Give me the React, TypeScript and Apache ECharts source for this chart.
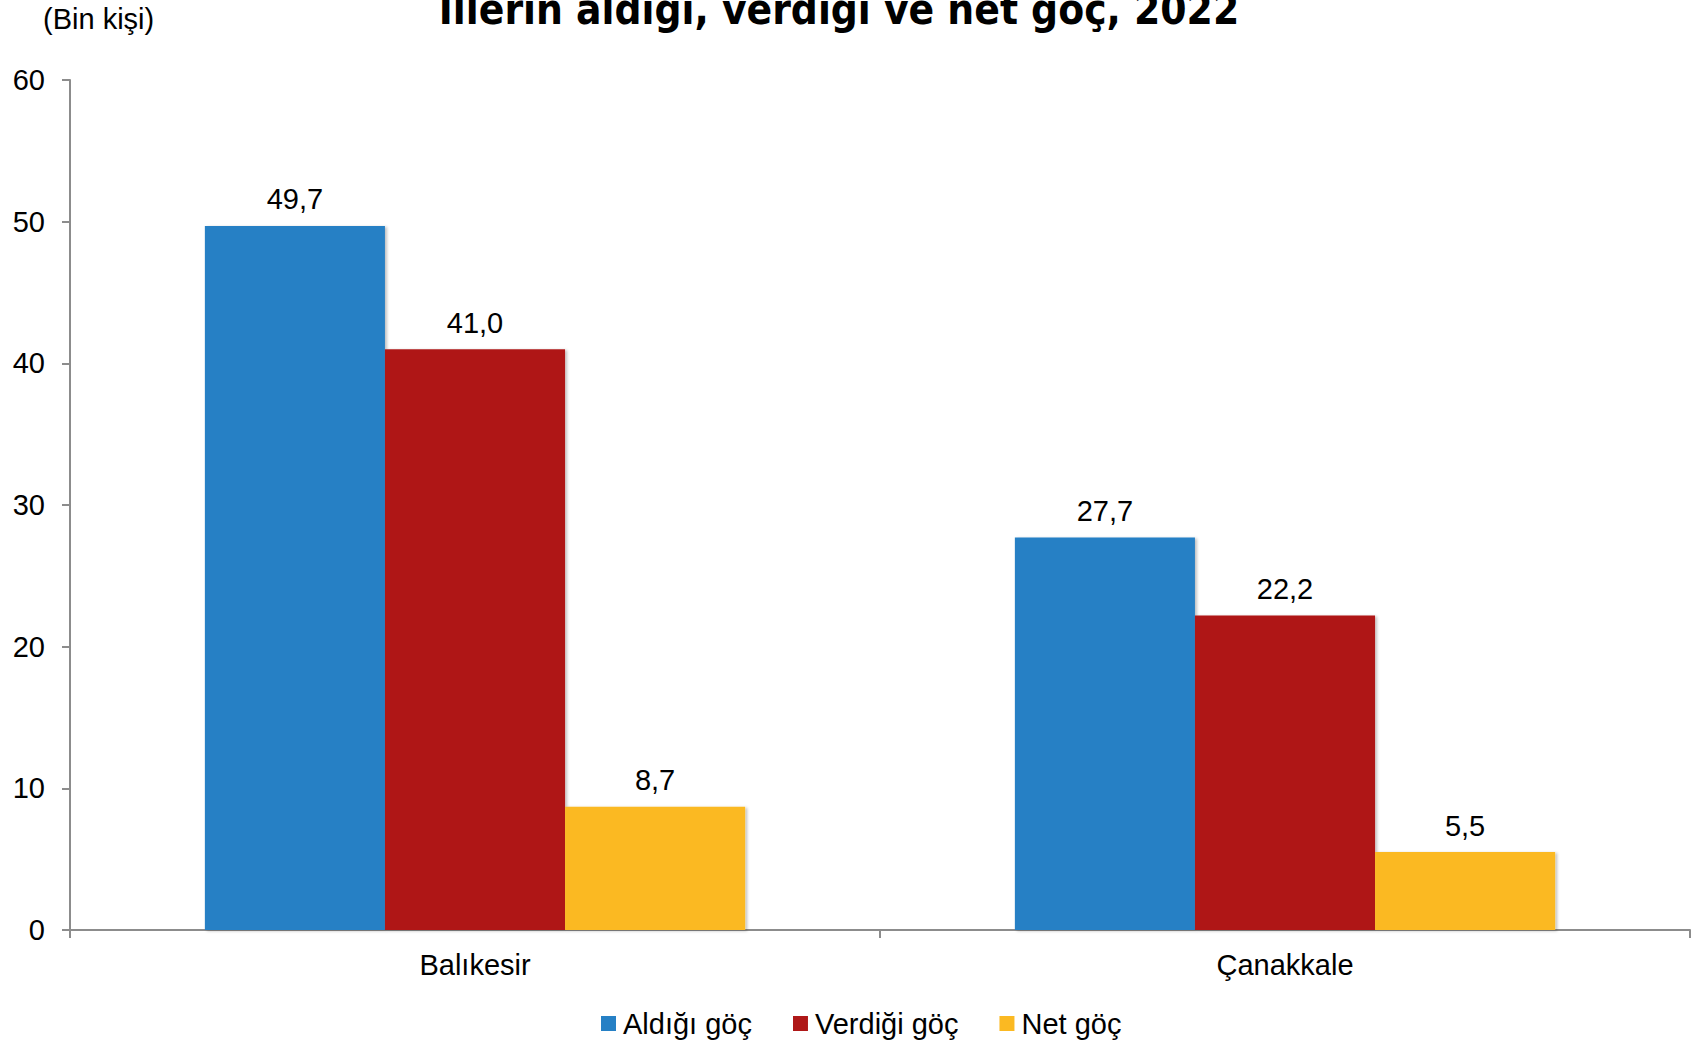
import React, { useEffect, useRef } from "react";
import * as echarts from "echarts";

const titleText = "İllerin aldığı, verdiği ve net göç, 2022";
const unitText = "(Bin kişi)";
const categories = ["Balıkesir", "Çanakkale"];
const seriesNames = ["Aldığı göç", "Verdiği göç", "Net göç"];
const aldigi = [49.7, 27.7];
const verdigi = [41.0, 22.2];
const net = [8.7, 5.5];
const colors = ["#2680C5", "#AF1818", "#FBB922"];

export default function App() {
  const ref = useRef<HTMLDivElement>(null);
  useEffect(() => {
    if (!ref.current) return;
    const chart = echarts.init(ref.current, null, { renderer: "svg" });
    const font = "'Liberation Sans', Arial, sans-serif";
    const values = [aldigi, verdigi, net];
    chart.setOption({
      animation: false,
      backgroundColor: "#ffffff",
      title: {
        text: titleText,
        left: 834,
        top: -17,
        textAlign: "center",
        textStyle: {
          fontFamily: "'DejaVu Sans Condensed', 'DejaVu Sans', sans-serif",
          fontWeight: "bold",
          fontSize: 42,
          color: "#000",
        },
      },
      graphic: [
        {
          type: "text",
          left: 43,
          top: 4,
          style: { text: unitText, font: `29px ${font}`, fill: "#000" },
        },
      ],
      legend: {
        left: 596,
        top: 1004,
        itemWidth: 15,
        itemHeight: 15,
        itemGap: 41,
        icon: "rect",
        textStyle: { fontFamily: font, fontSize: 29, color: "#000", padding: [0, 0, 0, 2] },
        data: seriesNames,
      },
      grid: { left: 70, right: 2, top: 80, bottom: 114, containLabel: false },
      xAxis: {
        type: "category",
        data: categories,
        axisLine: { lineStyle: { color: "#8C8C8C", width: 2 } },
        axisTick: { show: true, length: 8, lineStyle: { color: "#8C8C8C", width: 2 } },
        axisLabel: { margin: 20, fontFamily: font, fontSize: 29, color: "#000" },
      },
      yAxis: {
        type: "value",
        min: 0,
        max: 60,
        interval: 10,
        splitLine: { show: false },
        axisLine: { show: true, lineStyle: { color: "#8C8C8C", width: 2 } },
        axisTick: { show: true, length: 8, lineStyle: { color: "#8C8C8C", width: 2 } },
        axisLabel: { margin: 25, fontFamily: font, fontSize: 29, color: "#000" },
      },
      series: seriesNames.map((name, i) => ({
        name,
        type: "bar",
        data: values[i],
        barGap: "0%",
        barCategoryGap: "33.3%",
        itemStyle: {
          color: colors[i],
          shadowColor: "rgba(0,0,0,0.25)",
          shadowBlur: 3,
          shadowOffsetX: 2,
          shadowOffsetY: 1,
        },
        label: {
          show: true,
          position: "top",
          distance: 12,
          fontFamily: font,
          fontSize: 29,
          color: "#000",
          formatter: (p: any) => p.value.toFixed(1).replace(".", ","),
        },
      })),
    });
    return () => chart.dispose();
  }, []);
  return (
    <div
      ref={ref}
      style={{ position: "fixed", left: 0, top: 0, width: 1692, height: 1044 }}
    />
  );
}
